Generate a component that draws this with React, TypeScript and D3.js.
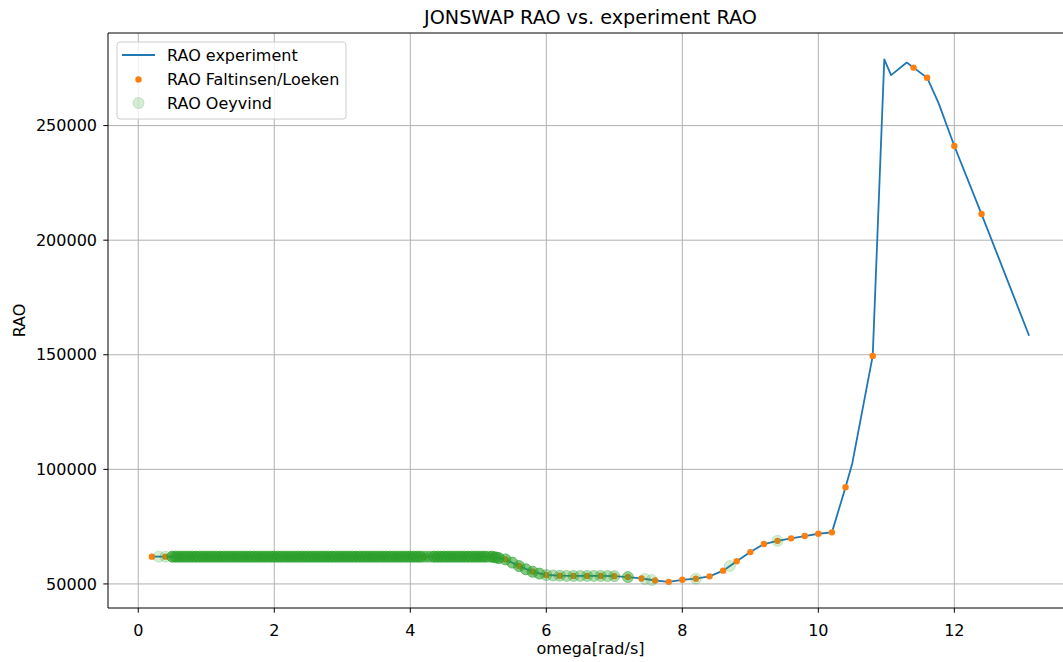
import React from 'react';
import * as d3 from 'd3';

const W = 1063;
const H = 662;

// ---- data ----
const xTicks = [0, 2, 4, 6, 8, 10, 12];
const yTicks = [50000, 100000, 150000, 200000, 250000];
const xDomain = [-0.445, 13.745];
const yDomain = [39500, 290400];

const experimentOmega = [
  0.2, 0.4, 0.6, 0.8, 1.0, 1.2, 1.4, 1.6, 1.8, 2.0,
  2.2, 2.4, 2.6, 2.8, 3.0, 3.2, 3.4, 3.6, 3.8, 4.0,
  4.2, 4.4, 4.6, 4.8, 5.0, 5.2, 5.4, 5.6, 5.8, 6.0,
  6.2, 6.4, 6.6, 6.8, 7.0, 7.2, 7.4, 7.6, 7.8, 8.0,
  8.2, 8.4, 8.6, 8.8, 9.0, 9.2, 9.4, 9.6, 9.8, 10.0,
  10.2, 10.4, 10.5, 10.8, 10.97, 11.07, 11.3, 11.4, 11.6, 11.77,
  12.0, 12.4, 13.1,
];
const experimentRao = [
  61900, 61900, 61900, 61900, 61900, 61900, 61900, 61900, 61900, 61900,
  61900, 61900, 61900, 61900, 61900, 61900, 61900, 61900, 61900, 61900,
  61900, 61900, 61900, 61900, 61900, 61900, 60700, 57800, 55300, 53900,
  53600, 53500, 53500, 53500, 53400, 53000, 52400, 51500, 50900, 51800,
  52300, 53300, 55800, 59900, 63900, 67400, 68800, 69900, 70900, 71900,
  72500, 92200, 102700, 149500, 278900, 272000, 277500, 275300, 270900, 259700,
  241100, 211400, 158300,
];

const faltinsenOmega = [
  0.2, 0.4, 0.6, 0.8, 1.0, 1.2, 1.4, 1.6, 1.8, 2.0,
  2.2, 2.4, 2.6, 2.8, 3.0, 3.2, 3.4, 3.6, 3.8, 4.0,
  4.2, 4.4, 4.6, 4.8, 5.0, 5.2, 5.4, 5.6, 5.8, 6.0,
  6.2, 6.4, 6.6, 6.8, 7.0, 7.2, 7.4, 7.6, 7.8, 8.0,
  8.2, 8.4, 8.6, 8.8, 9.0, 9.2, 9.4, 9.6, 9.8, 10.0,
  10.2, 10.4, 10.8, 11.4, 11.6, 12.0, 12.4,
];
const faltinsenRao = [
  61900, 61900, 61900, 61900, 61900, 61900, 61900, 61900, 61900, 61900,
  61900, 61900, 61900, 61900, 61900, 61900, 61900, 61900, 61900, 61900,
  61900, 61900, 61900, 61900, 61900, 61900, 60700, 57800, 55300, 53900,
  53600, 53500, 53500, 53500, 53400, 53000, 52400, 51500, 50900, 51800,
  52300, 53300, 55800, 59900, 63900, 67400, 68800, 69900, 70900, 71900,
  72500, 92200, 149500, 275300, 270900, 241100, 211400,
];

const oeyvindOmega = [
  0.3, 0.4,
  0.5, 0.55, 0.6, 0.65, 0.7, 0.75, 0.8, 0.85, 0.9, 0.95,
  1.0, 1.05, 1.1, 1.15, 1.2, 1.25, 1.3, 1.35, 1.4, 1.45,
  1.5, 1.55, 1.6, 1.65, 1.7, 1.75, 1.8, 1.85, 1.9, 1.95,
  2.0, 2.05, 2.1, 2.15, 2.2, 2.25, 2.3, 2.35, 2.4, 2.45,
  2.5, 2.55, 2.6, 2.65, 2.7, 2.75, 2.8, 2.85, 2.9, 2.95,
  3.0, 3.05, 3.1, 3.15, 3.2, 3.25, 3.3, 3.35, 3.4, 3.45,
  3.5, 3.55, 3.6, 3.65, 3.7, 3.75, 3.8, 3.85, 3.9, 3.95,
  4.0, 4.05, 4.1, 4.15, 4.2, 4.25, 4.3, 4.35, 4.4, 4.45,
  4.5, 4.55, 4.6, 4.65, 4.7, 4.75, 4.8, 4.85, 4.9, 4.95,
  5.0, 5.05, 5.1, 5.15, 5.2, 5.25, 5.3,
  5.4, 5.5, 5.6, 5.7, 5.8, 5.9, 6.0, 6.1, 6.2, 6.3,
  6.4, 6.5, 6.6, 6.7, 6.8, 6.9, 7.0, 7.2, 7.45, 7.55,
  8.2, 8.7, 9.4,
];
const oeyvindRao = [
  61900, 61900,
  61900, 61900, 61900, 61900, 61900, 61900, 61900, 61900, 61900, 61900,
  61900, 61900, 61900, 61900, 61900, 61900, 61900, 61900, 61900, 61900,
  61900, 61900, 61900, 61900, 61900, 61900, 61900, 61900, 61900, 61900,
  61900, 61900, 61900, 61900, 61900, 61900, 61900, 61900, 61900, 61900,
  61900, 61900, 61900, 61900, 61900, 61900, 61900, 61900, 61900, 61900,
  61900, 61900, 61900, 61900, 61900, 61900, 61900, 61900, 61900, 61900,
  61900, 61900, 61900, 61900, 61900, 61900, 61900, 61900, 61900, 61900,
  61900, 61900, 61900, 61900, 61900, 61900, 61900, 61900, 61900, 61900,
  61900, 61900, 61900, 61900, 61900, 61900, 61900, 61900, 61900, 61900,
  61900, 61900, 61900, 61900, 61900, 61600, 61300,
  60700, 59300, 57800, 56400, 55300, 54500, 53900, 53700, 53600, 53500,
  53500, 53500, 53500, 53500, 53500, 53450, 53400, 53000, 52150, 51700,
  52300, 57850, 68800,
];
// number of coincident samples at each omega
const oeyvindStack = [
  1, 1,
  6, 6, 6, 6, 6, 6, 6, 6, 6, 6,
  6, 6, 6, 6, 6, 6, 6, 6, 6, 6,
  6, 6, 6, 6, 6, 6, 6, 6, 6, 6,
  6, 6, 6, 6, 6, 6, 6, 6, 6, 6,
  6, 6, 6, 6, 6, 6, 6, 6, 6, 6,
  6, 6, 6, 6, 6, 6, 6, 6, 6, 6,
  6, 6, 6, 6, 6, 6, 6, 6, 6, 6,
  6, 6, 6, 6, 3, 3, 3, 6, 6, 6,
  6, 6, 6, 6, 6, 6, 6, 6, 6, 6,
  6, 6, 6, 3, 6, 6, 6,
  4, 4, 4, 4, 4, 4, 2, 2, 2, 2,
  2, 2, 2, 2, 2, 2, 2, 3, 1, 1,
  1, 1, 1,
];

const legendLabels = ['RAO experiment', 'RAO Faltinsen/Loeken', 'RAO Oeyvind'];

// ---- styles ----
const BLUE = '#1f77b4';
const ORANGE = '#ff7f0e';
const GREEN = '#2ca02c';
const FONT = 'DejaVu Sans, sans-serif';
const FS = 16;

export default function App() {
  const left = 108;
  const right = 1073;
  const top = 33;
  const bottom = 608;

  const x = d3.scaleLinear().domain(xDomain).range([left, right]);
  const y = d3.scaleLinear().domain(yDomain).range([bottom, top]);

  const expPts = experimentOmega.map((o, i) => [o, experimentRao[i]] as [number, number]);
  const line = d3
    .line<[number, number]>()
    .x((d) => x(d[0]))
    .y((d) => y(d[1]));

  const cx = (left + right) / 2;
  const cy = (top + bottom) / 2;

  return (
    <div style={{ position: 'absolute', left: 0, top: 0 }}>
      <svg width={W} height={H} style={{ display: 'block', background: '#fff' }} fontFamily={FONT}>
        <defs>
          <clipPath id="plotclip">
            <rect x={left} y={top} width={right - left} height={bottom - top} />
          </clipPath>
        </defs>
        {/* grid */}
        {xTicks.map((t) => (
          <line key={'gx' + t} x1={x(t)} x2={x(t)} y1={top} y2={bottom} stroke="#b0b0b0" strokeWidth={1} />
        ))}
        {yTicks.map((t) => (
          <line key={'gy' + t} x1={left} x2={right} y1={y(t)} y2={y(t)} stroke="#b0b0b0" strokeWidth={1} />
        ))}

        <g clipPath="url(#plotclip)">
          <path d={line(expPts) || ''} fill="none" stroke={BLUE} strokeWidth={1.8} strokeLinejoin="round" />
          {faltinsenOmega.map((o, i) => (
            <circle key={'f' + i} cx={x(o)} cy={y(faltinsenRao[i])} r={3.2} fill={ORANGE} />
          ))}
          {oeyvindOmega.map((o, i) => {
            const a = 1 - Math.pow(0.8, oeyvindStack[i]);
            return (
              <circle
                key={'o' + i}
                cx={x(o)}
                cy={y(oeyvindRao[i])}
                r={5.5}
                fill={GREEN}
                fillOpacity={a}
                stroke={GREEN}
                strokeOpacity={a}
                strokeWidth={1}
              />
            );
          })}
        </g>

        {/* spines */}
        <line x1={left} x2={left} y1={top} y2={bottom} stroke="#000" strokeWidth={1} />
        <line x1={left} x2={right} y1={bottom} y2={bottom} stroke="#000" strokeWidth={1} />
        <line x1={left} x2={right} y1={top} y2={top} stroke="#000" strokeWidth={1} />
        <line x1={right} x2={right} y1={top} y2={bottom} stroke="#000" strokeWidth={1} />

        {/* x ticks */}
        {xTicks.map((t) => (
          <g key={'xt' + t}>
            <line x1={x(t)} x2={x(t)} y1={bottom} y2={bottom + 4.7} stroke="#000" strokeWidth={1} />
            <text x={x(t)} y={630} dy="0.35em" textAnchor="middle" fontSize={FS} fill="#000">
              {t}
            </text>
          </g>
        ))}
        {/* y ticks */}
        {yTicks.map((t) => (
          <g key={'yt' + t}>
            <line x1={left - 4.7} x2={left} y1={y(t)} y2={y(t)} stroke="#000" strokeWidth={1} />
            <text x={left - 11} y={y(t)} dy="0.35em" textAnchor="end" fontSize={FS} fill="#000">
              {t}
            </text>
          </g>
        ))}

        {/* labels */}
        <text x={cx} y={648} dy="0.35em" textAnchor="middle" fontSize={FS} fill="#000">
          omega[rad/s]
        </text>
        <text
          transform={`translate(19,${cy}) rotate(-90)`}
          dy="0.35em"
          textAnchor="middle"
          fontSize={FS}
          fill="#000"
        >
          RAO
        </text>
        <text x={cx} y={17} dy="0.35em" textAnchor="middle" fontSize={19.2} fill="#000">
          JONSWAP RAO vs. experiment RAO
        </text>

        {/* legend */}
        <g>
          <rect x={117} y={42} width={229} height={77} rx={3} fill="#fff" fillOpacity={0.8} stroke="#cccccc" strokeWidth={1} />
          <line x1={122} x2={155} y1={55} y2={55} stroke={BLUE} strokeWidth={1.8} />
          <circle cx={138.5} cy={79.5} r={3.2} fill={ORANGE} />
          <circle cx={138.5} cy={103} r={5.5} fill={GREEN} fillOpacity={0.2} stroke={GREEN} strokeOpacity={0.2} strokeWidth={1} />
          {legendLabels.map((l, i) => (
            <text key={l} x={167} y={55 + i * 24} dy="0.35em" fontSize={FS} fill="#000">
              {l}
            </text>
          ))}
        </g>
      </svg>
    </div>
  );
}
